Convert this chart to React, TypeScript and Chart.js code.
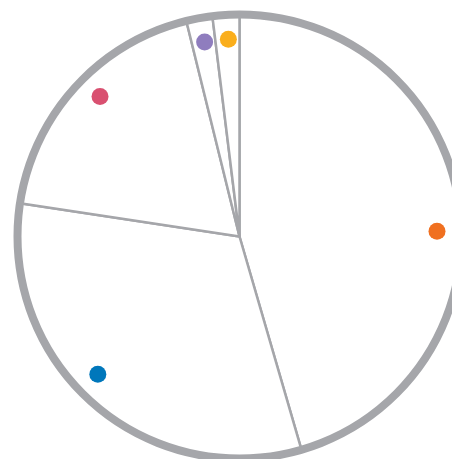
import React, { useEffect, useRef } from "react";
import { Chart, registerables } from "chart.js";

Chart.register(...registerables);

const categories = ["A", "B", "C", "D", "E"];
const values = [45.5, 31.9, 18.75, 1.9, 1.95];
const dotColors = ["#F07020", "#0077BB", "#D95070", "#8F7DBE", "#FAAE1C"];

const outlineColor = "#A5A6AA";

const dotPlugin = {
  id: "dotsAndRing",
  afterDatasetsDraw(chart: any) {
    const meta = chart.getDatasetMeta(0);
    const ctx = chart.ctx;
    if (!meta.data.length) return;
    const first = meta.data[0].getProps(["x", "y", "outerRadius"], true);
    ctx.save();
    ctx.beginPath();
    ctx.arc(first.x, first.y, first.outerRadius, 0, Math.PI * 2);
    ctx.lineWidth = 8;
    ctx.strokeStyle = outlineColor;
    ctx.stroke();
    meta.data.forEach((arc: any, i: number) => {
      const p = arc.getProps(["x", "y", "startAngle", "endAngle", "outerRadius"], true);
      const a = p.startAngle + 0.54 * (p.endAngle - p.startAngle);
      const r = p.outerRadius * 0.89;
      ctx.beginPath();
      ctx.arc(p.x + r * Math.cos(a), p.y + r * Math.sin(a), 8.5, 0, Math.PI * 2);
      ctx.fillStyle = dotColors[i];
      ctx.fill();
    });
    ctx.restore();
  },
};

export default function App() {
  const ref = useRef<HTMLCanvasElement>(null);
  useEffect(() => {
    if (!ref.current) return;
    const chart = new Chart(ref.current, {
      type: "pie",
      data: {
        labels: categories,
        datasets: [
          {
            data: values,
            backgroundColor: "#FFFFFF",
            borderColor: outlineColor,
            borderWidth: 2.5,
            radius: 222,
          } as any,
        ],
      },
      options: {
        responsive: false,
        animation: false,
        events: [],
        layout: { padding: 0 },
        plugins: {
          legend: { display: false },
          tooltip: { enabled: false },
        },
      },
      plugins: [dotPlugin],
    });
    return () => chart.destroy();
  }, []);
  return (
    <div
      style={{
        position: "fixed",
        left: 0,
        top: 0,
        width: 452,
        height: 459,
        overflow: "hidden",
        background: "#FFFFFF",
      }}
    >
      <canvas ref={ref} width={479} height={473} style={{ width: 479, height: 473, display: "block" }} />
    </div>
  );
}
